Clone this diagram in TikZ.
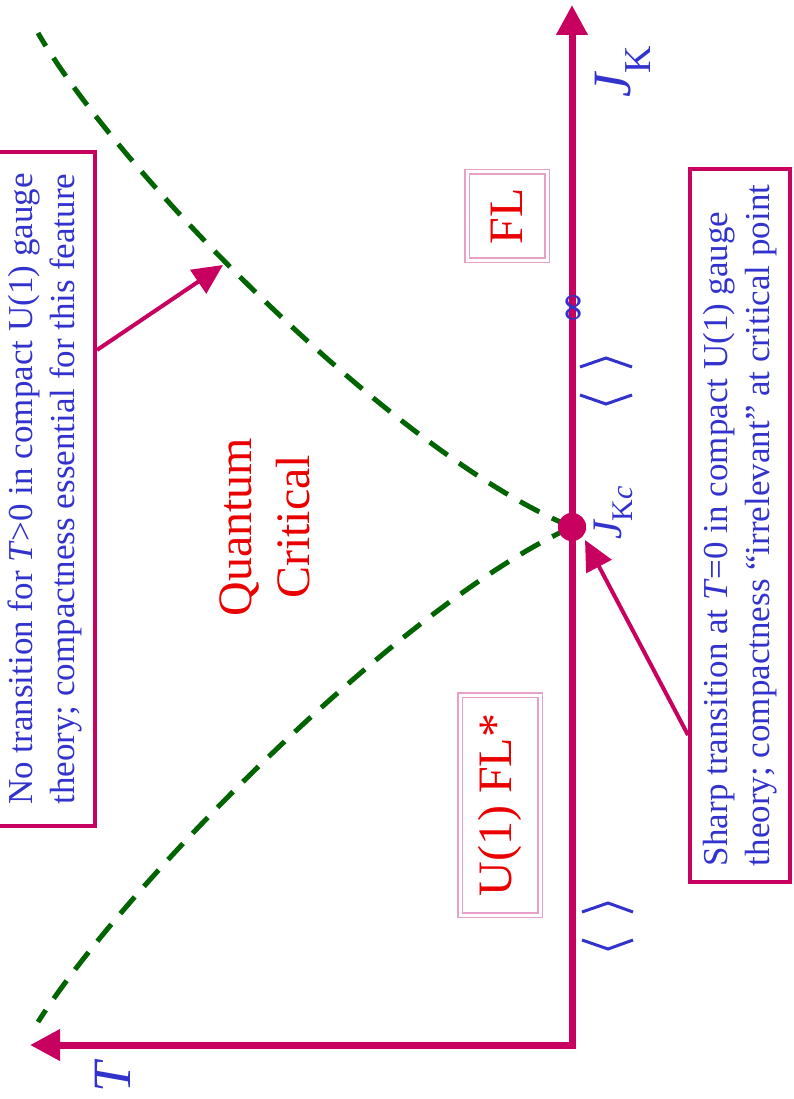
\documentclass[tikz,border=0pt]{standalone}
\usepackage{fontspec}
\setmainfont{Liberation Serif}
\newfontfamily\symbolfont{DejaVu Serif}
\usetikzlibrary{arrows.meta,calc}

\definecolor{axiscol}{RGB}{200,0,95}
\definecolor{txtblue}{RGB}{50,50,205}
\definecolor{lblred}{RGB}{235,0,0}
\definecolor{phaseline}{RGB}{0,100,0}
\definecolor{framepink}{RGB}{232,160,200}

\tikzset{
  axisline/.style={draw=axiscol, line width=7pt,
    {Triangle[length=30pt,width=30pt]}-{Triangle[length=30pt,width=30pt]}},
  crossover/.style={draw=phaseline, line width=5pt, dash pattern=on 22pt off 14pt},
  notebox/.style={draw=axiscol, line width=4pt, rotate=90, text=txtblue,
    font=\fontsize{35}{42}\selectfont, align=left, inner sep=0pt,
    minimum height=100pt},
  phasebox/.style={draw=framepink, double, double distance=3pt, line width=1.2pt,
    rotate=90, text=lblred, font=\fontsize{48}{58}\selectfont, inner sep=0pt,
    minimum height=80pt},
  pointer/.style={draw=axiscol, line width=4pt, -{Triangle[length=30pt,width=28pt]}},
  bracket/.style={draw=txtblue, line width=3pt},
  axislabel/.style={rotate=90, text=txtblue, inner sep=0pt, anchor=base west},
}

\begin{document}
\begin{tikzpicture}[x=1pt,y=-1pt]
  \useasboundingbox (0,0) rectangle (793,1099);

  % axes and critical point
  \coordinate (O) at (572,1045);
  \coordinate (Jend) at (572,5);
  \coordinate (Tend) at (30,1045);
  \node[circle, fill=axiscol, minimum size=28pt, inner sep=0pt] (qcp) at (572,527) {};

  % crossover lines out of the critical point
  \draw[crossover] (qcp.center) .. controls (396,455) and (119,173) .. (38,33);
  \draw[crossover] (qcp.center) .. controls (400,605) and (125,885) .. (38,1022);

  \draw[axisline] (Jend) -- (O) -- (Tend);
  \node[circle, fill=axiscol, minimum size=28pt, inner sep=0pt] at (qcp) {};

  % axis labels
  \node[axislabel] (jk) at (630,98)
    {{\fontsize{54}{54}\selectfont\itshape J}\raisebox{-20pt}{\fontsize{38}{38}\selectfont K}};
  \node[axislabel] (jkc) at (621,540)
    {{\fontsize{42}{42}\selectfont\itshape J}\raisebox{-11pt}{\fontsize{30}{30}\selectfont K\itshape c}};
  \node[axislabel] (tlab) at (130,1093) {\fontsize{54}{54}\selectfont\itshape T};

  % small marks along the J_K axis
  \node[rotate=90, text=txtblue, inner sep=0pt, font=\symbolfont\fontsize{40}{40}\selectfont] (inf) at (576,308) {∞};
  \draw[bracket] (580,367) -- (606,358) -- (632,367);
  \draw[bracket] (580,395) -- (606,404) -- (632,395);
  \draw[bracket] (582,912) -- (608,903) -- (633,912);
  \draw[bracket] (582,940) -- (608,949) -- (633,940);

  % phases
  \node[phasebox, minimum width=88pt] (fl) at (507,216) {FL};
  \node[phasebox, minimum width=220pt] (flstar) at (500,805) {U(1) FL*};
  \node[rotate=90, text=lblred, align=center, font=\fontsize{48}{58}\selectfont] (qc)
    at (265,527) {Quantum\\Critical};

  % explanatory notes
  \node[notebox, minimum width=674pt] (noteA) at (45,489)
    {No transition for \textit{T}>0 in compact U(1) gauge\\
     theory; compactness essential for this feature};
  \node[notebox, minimum width=713pt] (noteB) at (740,525.5)
    {Sharp transition at \textit{T}=0 in compact U(1) gauge\\
     theory; compactness “irrelevant” at critical point};

  \coordinate (tipA) at (223,265);
  \coordinate (footA) at (0,350);
  \coordinate (tipB) at (585,540);
  \coordinate (footB) at (0,735);
  \draw[pointer] (noteA.south |- footA) -- (tipA);
  \draw[pointer] (noteB.north |- footB) -- (tipB);
\end{tikzpicture}
\end{document}
